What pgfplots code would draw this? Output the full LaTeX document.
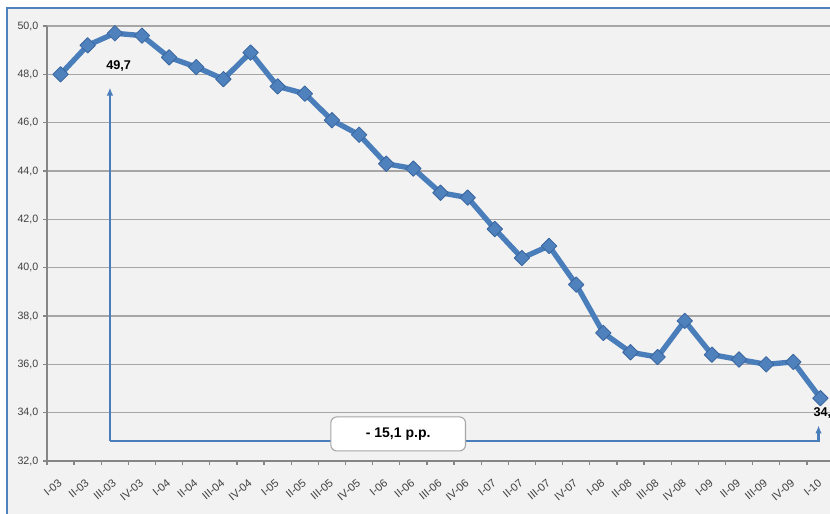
\documentclass[border=0pt]{standalone}
\usepackage{fontspec}
\setmainfont{Liberation Sans}
\usepackage{pgfplots}
\pgfplotsset{compat=1.18}
\usetikzlibrary{arrows.meta}

\definecolor{bgc}{HTML}{F2F2F2}
\definecolor{frame}{HTML}{4F81BD}
\definecolor{serie}{HTML}{4A7EBB}
\definecolor{mk}{HTML}{4F81BD}
\definecolor{mkedge}{HTML}{3A66A0}
\definecolor{gridc}{HTML}{A6A6A6}
\definecolor{axc}{HTML}{868686}
\definecolor{txt}{HTML}{404040}

\begin{document}
\begin{tikzpicture}
% page = 830 x 513 px at 0.75pt per px
\useasboundingbox (0,0) rectangle (622.5pt,384.75pt);
\fill[white] (0,0) rectangle (622.5pt,384.75pt);
\fill[bgc] (5.25pt,-10pt) rectangle (640pt,378.75pt);
\draw[frame, line width=1.8pt] (5.25pt,-10pt) -- (5.25pt,378.75pt) -- (640pt,378.75pt);

\begin{axis}[
    at={(35.25pt,39pt)}, anchor=south west,
    scale only axis,
    width=590.25pt, height=326.25pt,
    xmin=-0.5, xmax=28.5,
    ymin=32, ymax=50,
    xtick={0,...,28},
    xticklabels={I-03,II-03,III-03,IV-03,I-04,II-04,III-04,IV-04,I-05,II-05,III-05,IV-05,I-06,II-06,III-06,IV-06,I-07,II-07,III-07,IV-07,I-08,II-08,III-08,IV-08,I-09,II-09,III-09,IV-09,I-10},
    extra x ticks={-0.5,0.5,...,28.5},
    extra x tick labels={},
    extra x tick style={xtick style={draw=axc}},
    ytick={32,34,...,50},
    axis x line*=bottom, axis y line*=left,
    axis line style={axc, line width=1.1pt, -},
    tick align=outside, tick pos=left,
    major tick length=3pt,
    tick style={axc, line width=1pt},
    xtick style={draw=none},
    ymajorgrids,
    grid style={gridc, line width=1.1pt},
    /pgf/number format/assume math mode=true,
    y tick label style={/pgf/number format/fixed, /pgf/number format/fixed zerofill,
        /pgf/number format/precision=1, /pgf/number format/use comma},
    yticklabel style={font=\fontsize{8}{9}\selectfont, text=txt},
    xticklabel style={font=\fontsize{8.3}{9}\selectfont, text=txt,
        xshift=-2.2pt, yshift=-10pt, rotate=40, anchor=north east, inner sep=0pt},
    clip=false,
]
\addplot[serie, line width=4pt, line join=round,
    mark=square*, mark size=4.1pt,
    mark options={rotate=45, fill=mk, draw=mkedge, line width=0.6pt}]
coordinates {
(0,48.0) (1,49.2) (2,49.7) (3,49.6) (4,48.7) (5,48.3) (6,47.8) (7,48.9)
(8,47.5) (9,47.2) (10,46.1) (11,45.5) (12,44.3) (13,44.1) (14,43.1) (15,42.9)
(16,41.6) (17,40.4) (18,40.9) (19,39.3) (20,37.3) (21,36.5) (22,36.3) (23,37.8)
(24,36.4) (25,36.2) (26,36.0) (27,36.1) (28,34.6)
};

% bracket arrow showing the fall
\draw[serie, line width=1.9pt, -{Latex[length=6pt,width=5pt]}]
    (axis cs:1.82,32.83) -- (axis cs:1.82,47.45);
\draw[serie, line width=1.9pt, -{Latex[length=6pt,width=5pt]}]
    (axis cs:1.82,32.83) -- (axis cs:27.93,32.83) -- (axis cs:27.93,33.47);

\node[font=\fontsize{9.5}{10}\selectfont\bfseries] at (axis cs:2.14,48.34) {49,7};
\node[font=\fontsize{9.5}{10}\selectfont\bfseries] at (axis cs:28.2,34.0) {34,6};

\node[draw=gridc, fill=white, rounded corners=4.5pt, line width=0.8pt,
      minimum width=101pt, minimum height=25.5pt,
      font=\fontsize{10.5}{12}\selectfont\bfseries]
    at (axis cs:12.44,33.12) {- 15,1 p.p.};
\end{axis}
\end{tikzpicture}
\end{document}
